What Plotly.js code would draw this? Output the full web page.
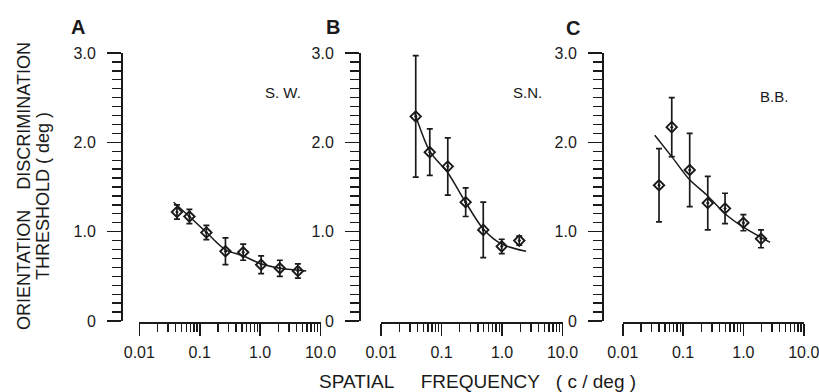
<!DOCTYPE html>
<html>
<head>
<meta charset="utf-8">
<script src="https://cdn.plot.ly/plotly-3.0.1.min.js"></script>
<style>html,body{margin:0;padding:0;background:#fff;}#chart{width:819px;height:392px;}</style>
</head>
<body>
<div id="chart"></div>
<script>
// ---- Data ----
var panelLetters = ["A", "B", "C"];
var subjects = ["S. W.", "S.N.", "B.B."];

// Panel A (S.W.)
var freqA = [0.042, 0.0675, 0.129, 0.267, 0.525, 1.04, 2.12, 4.22];
var threshA = [1.22, 1.17, 0.99, 0.78, 0.77, 0.63, 0.59, 0.56];
var errA = [0.08, 0.08, 0.08, 0.15, 0.09, 0.10, 0.09, 0.08];
var fitFreqA = [0.037, 0.0675, 0.13, 0.265, 0.52, 1.04, 2.1, 4.2, 5.8];
var fitThreshA = [1.33, 1.17, 0.99, 0.80, 0.73, 0.64, 0.59, 0.57, 0.56];

// Panel B (S.N.)
var freqB = [0.0375, 0.064, 0.127, 0.251, 0.49, 0.99, 1.93];
var threshB = [2.29, 1.89, 1.73, 1.33, 1.02, 0.835, 0.90];
var errB = [0.68, 0.26, 0.32, 0.16, 0.31, 0.08, 0.05];
var fitFreqB = [0.036, 0.064, 0.127, 0.25, 0.49, 0.99, 2.5];
var fitThreshB = [2.33, 1.90, 1.66, 1.33, 1.03, 0.86, 0.78];

// Panel C (B.B.)
var freqC = [0.040, 0.065, 0.129, 0.257, 0.497, 1.0, 1.96];
var threshC = [1.52, 2.17, 1.69, 1.32, 1.26, 1.10, 0.92];
var errC = [0.41, 0.33, 0.41, 0.30, 0.17, 0.09, 0.10];
var fitFreqC = [0.034, 0.065, 0.129, 0.257, 0.497, 1.0, 2.77];
var fitThreshC = [2.08, 1.84, 1.58, 1.40, 1.20, 1.05, 0.88];

var xTickVals = [0.01, 0.1, 1, 10];
var xTickText = ["0.01", "0.1", "1.0", "10.0"];
var yTickVals = [0, 1, 2, 3];
var yTickText = ["0", "1.0", "2.0", "3.0"];

// ---- Layout helpers ----
var W = 819, H = 392;
function fx(p) { return p / W; }
function fy(p) { return 1 - p / H; }
var INK = "#1a1a1a";
var FONT = "Liberation Sans, Arial, Helvetica, sans-serif";

var panels = [
  {fx: freqA, fy: threshA, fe: errA, cx: fitFreqA, cy: fitThreshA, x0: 139.3, x1: 320.5, yax: 122, letter: [78, 27], subj: [283, 92]},
  {fx: freqB, fy: threshB, fe: errB, cx: fitFreqB, cy: fitThreshB, x0: 381, x1: 562.5, yax: 360, letter: [333, 27], subj: [527, 92]},
  {fx: freqC, fy: threshC, fe: errC, cx: fitFreqC, cy: fitThreshC, x0: 622.7, x1: 803.7, yax: 603, letter: [573, 28], subj: [774, 96]}
];

var traces = [];
var layout = {
  width: W, height: H,
  margin: {l: 0, r: 0, t: 0, b: 0},
  paper_bgcolor: "#fff", plot_bgcolor: "rgba(0,0,0,0)",
  showlegend: false,
  font: {family: FONT, color: INK, size: 16},
  annotations: []
};

panels.forEach(function (p, i) {
  var n = i === 0 ? "" : String(i + 1);
  var xa = "x" + n, ya = "y" + n;
  traces.push({
    x: p.cx, y: p.cy, xaxis: xa, yaxis: ya, type: "scatter", mode: "lines",
    line: {color: INK, width: 1.5, shape: "spline", smoothing: 0.8},
    hoverinfo: "skip"
  });
  traces.push({
    x: p.fx, y: p.fy, xaxis: xa, yaxis: ya, type: "scatter", mode: "markers",
    marker: {symbol: "diamond-open-dot", size: 8, color: INK, line: {color: INK, width: 1.9}},
    error_y: {type: "data", array: p.fe, visible: true, color: INK, thickness: 1.7, width: 3}
  });
  layout["xaxis" + n] = {
    type: "log", range: [-2, 1],
    domain: [fx(p.x0), fx(p.x1)],
    anchor: "free", position: fy(323),
    showline: true, linecolor: INK, linewidth: 2,
    showgrid: false, zeroline: false,
    tickmode: "array", tickvals: xTickVals, ticktext: xTickText,
    ticks: "outside", ticklen: 12, tickwidth: 1.6, tickcolor: INK,
    ticklabelstandoff: 3, ticklabeloverflow: "allow",
    tickfont: {family: FONT, size: 16, color: INK},
    minor: {dtick: "D1", ticks: "outside", ticklen: 8, tickwidth: 1.4, tickcolor: INK, showgrid: false},
    fixedrange: true
  };
  layout["yaxis" + n] = {
    range: [0, 3],
    domain: [fy(321), fy(53)],
    anchor: "free", position: fx(p.yax),
    showline: true, linecolor: INK, linewidth: 2,
    showgrid: false, zeroline: false,
    tickmode: "array", tickvals: yTickVals, ticktext: yTickText,
    ticks: "outside", ticklen: 14, tickwidth: 1.6, tickcolor: INK,
    ticklabelstandoff: 8, ticklabeloverflow: "allow",
    tickfont: {family: FONT, size: 16, color: INK},
    minor: {dtick: 0.1, ticks: "outside", ticklen: 9, tickwidth: 1.3, tickcolor: INK, showgrid: false},
    fixedrange: true
  };
  layout.annotations.push({
    text: panelLetters[i], xref: "paper", yref: "paper",
    x: fx(p.letter[0]), y: fy(p.letter[1]), xanchor: "center", yanchor: "middle",
    showarrow: false, font: {family: FONT, size: 20, color: INK, weight: "bold"}
  });
  layout.annotations.push({
    text: subjects[i], xref: "paper", yref: "paper",
    x: fx(p.subj[0]), y: fy(p.subj[1]), xanchor: "center", yanchor: "middle",
    showarrow: false, font: {family: FONT, size: 15, color: INK}
  });
});

var NB = "\u00a0";
layout.annotations.push({
  text: "ORIENTATION" + NB + NB + NB + NB + "DISCRIMINATION",
  xref: "paper", yref: "paper", x: fx(24), y: fy(186),
  xanchor: "center", yanchor: "middle", textangle: -90, showarrow: false,
  font: {family: FONT, size: 18, color: INK}
});
layout.annotations.push({
  text: "THRESHOLD" + NB + "(" + NB + "deg" + NB + ")",
  xref: "paper", yref: "paper", x: fx(43), y: fy(196),
  xanchor: "center", yanchor: "middle", textangle: -90, showarrow: false,
  font: {family: FONT, size: 18, color: INK}
});
layout.annotations.push({
  text: "SPATIAL" + NB + NB + NB + NB + NB + "FREQUENCY" + NB + NB + NB + "(" + NB + "c" + NB + "/" + NB + "deg" + NB + ")",
  xref: "paper", yref: "paper", x: fx(477), y: fy(381),
  xanchor: "center", yanchor: "middle", showarrow: false,
  font: {family: FONT, size: 19, color: INK}
});

Plotly.newPlot("chart", traces, layout, {displayModeBar: false, staticPlot: true});
</script>
</body>
</html>
